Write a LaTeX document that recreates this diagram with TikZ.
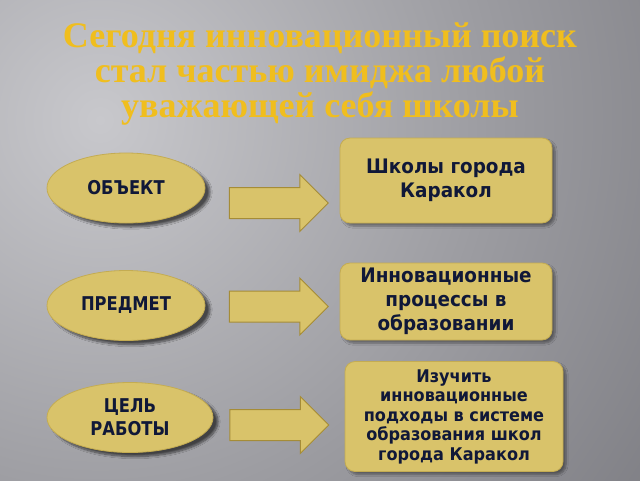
\documentclass[tikz,border=0pt]{standalone}
\usepackage{fontspec}
\setmainfont{DejaVu Sans}
\newfontfamily\titlefont{Liberation Serif}
\newfontfamily\bodyfont[FakeStretch=0.92]{DejaVu Sans}
\newfontfamily\ovalfont[FakeStretch=0.86]{DejaVu Sans}
\usetikzlibrary{shapes.geometric,shapes.arrows,shadows.blur}
\definecolor{gold}{RGB}{217,195,106}
\definecolor{goldline}{RGB}{196,172,82}
\definecolor{arrline}{RGB}{165,140,55}
\definecolor{navy}{RGB}{16,24,56}
\definecolor{titlegold}{RGB}{240,190,30}
\definecolor{bgA}{RGB}{200,200,204}
\definecolor{bgB}{RGB}{156,156,161}
\definecolor{bgC}{RGB}{116,116,122}
\definecolor{bgD}{RGB}{70,70,76}
\pgfdeclareradialshading{bgshade}{\pgfpoint{0bp}{0bp}}{color(0bp)=(bgA); color(15bp)=(bgB); color(30bp)=(bgC); color(50bp)=(bgD)}
\tikzset{
  titleline/.style={anchor=base, text=titlegold, inner sep=0pt,
    font=\titlefont\bfseries\fontsize{36}{35}\selectfont},
  oval/.style={ellipse, fill=gold, draw=goldline, line width=0.8pt,
    minimum height=70pt, inner sep=0pt, text=navy, align=center,
    font=\ovalfont\bfseries\fontsize{19}{23}\selectfont,
    blur shadow={shadow xshift=5pt, shadow yshift=-4pt, shadow blur steps=10, shadow opacity=60}},
  infobox/.style={rectangle, rounded corners=10pt, fill=gold, draw=goldline, line width=0.8pt,
    inner sep=0pt, text=navy, align=center,
    font=\bodyfont\bfseries\fontsize{20}{24}\selectfont,
    blur shadow={shadow xshift=3pt, shadow yshift=-3pt, shadow blur steps=6, shadow opacity=40}},
  blockarrow/.style={single arrow, fill=gold, draw=arrline, line width=1pt,
    minimum height=99pt, inner xsep=0pt, inner ysep=15pt, single arrow head extend=13pt}
}
\begin{document}
\begin{tikzpicture}[x=1pt,y=-1pt]
\useasboundingbox (0,0) rectangle (640,480);
\clip (0,0) rectangle (640,480);
\shade[shading=bgshade] (100,120) circle (650pt);

\node[titleline] (t1) at (320,47) {Сегодня инновационный поиск};
\node[titleline] (t2) at (320,82) {стал частью имиджа любой};
\node[titleline] (t3) at (320,117) {уважающей себя школы};

\node[oval, minimum width=158pt] (o1) at (126,188) {ОБЪЕКТ};
\node[oval, minimum width=158pt] (o2) at (126,305.5) {ПРЕДМЕТ};
\node[oval, minimum width=166pt] (o3) at (130,417.5) {ЦЕЛЬ\\РАБОТЫ};

\node[blockarrow] (a1) at (271,203) {};
\node[blockarrow] (a2) at (271,306.5) {};
\node[blockarrow] (a3) at (271.5,425) {};

\node[infobox, minimum width=212pt, minimum height=85pt] (b1) at (446,180.5) {Школы города\\Каракол};
\node[infobox, minimum width=212pt, minimum height=77pt] (b2) at (446,301.5) {Инновационные\\процессы в\\образовании};
\node[infobox, minimum width=218pt, minimum height=110pt,
  font=\bodyfont\bfseries\fontsize{17.5}{19.5}\selectfont] (b3) at (454,416.5)
  {Изучить\\инновационные\\подходы в системе\\образования школ\\города Каракол};
\end{tikzpicture}
\end{document}
